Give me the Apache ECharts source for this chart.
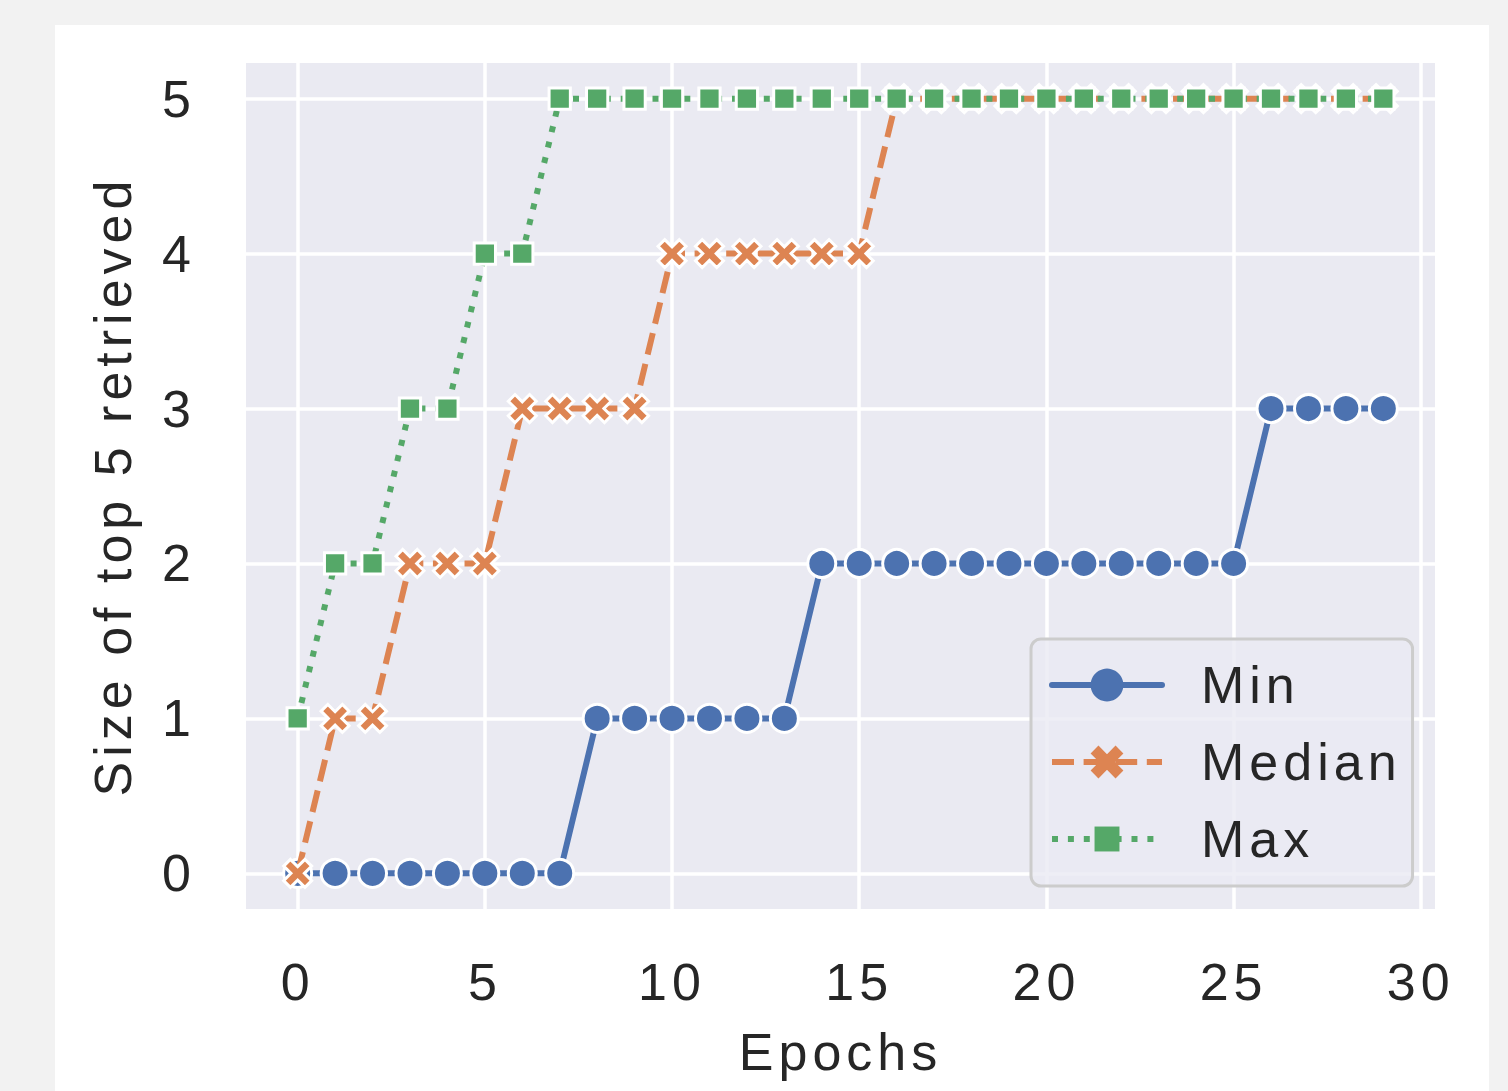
<!DOCTYPE html>
<html>
<head>
<meta charset="utf-8">
<script src="https://cdn.jsdelivr.net/npm/echarts@6/dist/echarts.min.js"></script>
<style>
  html, body { margin: 0; padding: 0; background: #f2f2f2; }
  #chart { position: absolute; left: 55px; top: 25px; width: 1434px; height: 1066px; background: #ffffff; }
  /* the reference text is set with loose tracking */
  #chart svg text { letter-spacing: 5px; }
</style>
</head>
<body>
<div id="chart"></div>
<script>
// epochs on x axis
const epochs = [0, 1, 2, 3, 4, 5, 6, 7, 8, 9, 10, 11, 12, 13, 14, 15, 16, 17, 18, 19, 20, 21, 22, 23, 24, 25, 26, 27, 28, 29];
const minVals = [0, 0, 0, 0, 0, 0, 0, 0, 1, 1, 1, 1, 1, 1, 2, 2, 2, 2, 2, 2, 2, 2, 2, 2, 2, 2, 3, 3, 3, 3];
const medianVals = [0, 1, 1, 2, 2, 2, 3, 3, 3, 3, 4, 4, 4, 4, 4, 4, 5, 5, 5, 5, 5, 5, 5, 5, 5, 5, 5, 5, 5, 5];
const maxVals = [1, 2, 2, 3, 3, 4, 4, 5, 5, 5, 5, 5, 5, 5, 5, 5, 5, 5, 5, 5, 5, 5, 5, 5, 5, 5, 5, 5, 5, 5];
const seriesNames = ['Min', 'Median', 'Max'];

const FONT = 'Liberation Sans, Arial, sans-serif';
const TEXT = '#262626';
const FS = 52;
// filled "X" marker like matplotlib
const xMarker = 'path://M0,2.4 L2.4,0 L5,2.6 L7.6,0 L10,2.4 L7.4,5 L10,7.6 L7.6,10 L5,7.4 L2.4,10 L0,7.6 L2.6,5 Z';
// square with empty margin so the legend square comes out smaller than the circle
const sqMarker = 'path://M0,0 M1.2,1.2 L8.8,1.2 L8.8,8.8 L1.2,8.8 Z M10,10';

function pairs(vals) {
  return epochs.map((e, i) => [e, vals[i]]);
}

const chart = echarts.init(document.getElementById('chart'), null, { renderer: 'svg' });
chart.setOption({
  animation: false,
  grid: {
    left: 191, top: 38, right: 54, bottom: 182,
    show: true, backgroundColor: '#eaeaf2', borderWidth: 0
  },
  xAxis: {
    type: 'value',
    min: -1.38,
    max: 30.38,
    name: 'Epochs',
    nameLocation: 'middle',
    nameGap: 117,
    nameTextStyle: { fontSize: FS, color: TEXT, fontFamily: FONT },
    axisLine: { show: false },
    axisTick: { show: false },
    axisLabel: {
      fontSize: FS, color: TEXT, fontFamily: FONT, margin: 47,
      formatter: v => (Math.abs(v % 5) < 1e-9 ? String(v) : '')
    },
    splitLine: { show: true, showMinLine: false, showMaxLine: false, lineStyle: { color: '#ffffff', width: 3.5 } }
  },
  yAxis: {
    type: 'value',
    min: -0.23,
    max: 5.23,
    name: 'Size of top 5 retrieved',
    nameLocation: 'middle',
    nameGap: 107,
    nameTextStyle: { fontSize: FS, color: TEXT, fontFamily: FONT },
    axisLine: { show: false },
    axisTick: { show: false },
    axisLabel: {
      fontSize: FS, color: TEXT, fontFamily: FONT, margin: 50,
      formatter: v => (Math.abs(v % 1) < 1e-9 ? String(v) : '')
    },
    splitLine: { show: true, showMinLine: false, showMaxLine: false, lineStyle: { color: '#ffffff', width: 3.5 } }
  },
  legend: {
    orient: 'vertical',
    left: 976,
    top: 614,
    itemWidth: 110,
    itemHeight: 41,
    itemGap: 25,
    padding: [20, 41, 21, 18],
    backgroundColor: 'rgba(234,234,242,0.8)',
    borderColor: '#cccccc',
    borderWidth: 3,
    borderRadius: 10,
    itemStyle: { borderWidth: 0 },
    lineStyle: { width: 6 },
    textStyle: { fontSize: FS, color: TEXT, fontFamily: FONT, padding: [0, 0, 0, 34] },
    data: seriesNames
  },
  series: [
    {
      name: seriesNames[0],
      type: 'line',
      data: pairs(minVals),
      symbol: 'circle',
      symbolSize: 28,
      itemStyle: { color: '#4c72b0', borderColor: '#ffffff', borderWidth: 3 },
      lineStyle: { color: '#4c72b0', width: 6, cap: 'round' },
      z: 2
    },
    {
      name: seriesNames[1],
      type: 'line',
      data: pairs(medianVals),
      symbol: xMarker,
      symbolSize: 28,
      itemStyle: { color: '#dd8452', borderColor: '#ffffff', borderWidth: 3 },
      lineStyle: { color: '#dd8452', width: 6, type: [22, 9.6], cap: 'butt' },
      z: 3
    },
    {
      name: seriesNames[2],
      type: 'line',
      data: pairs(maxVals),
      symbol: sqMarker,
      symbolSize: 28,
      itemStyle: { color: '#55a868', borderColor: '#ffffff', borderWidth: 3 },
      lineStyle: { color: '#55a868', width: 6, type: [6, 9.9], cap: 'butt' },
      z: 4
    }
  ]
});
</script>
</body>
</html>
